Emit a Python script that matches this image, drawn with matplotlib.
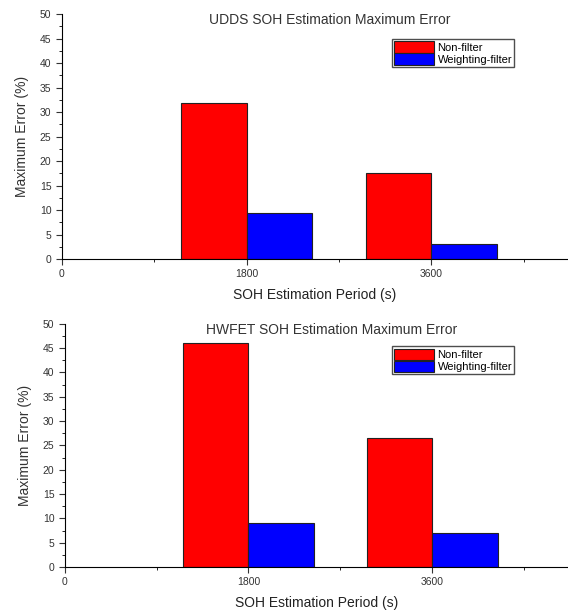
import matplotlib.pyplot as plt
import numpy as np
from matplotlib.ticker import MultipleLocator

plt.rcParams['font.family'] = ['Liberation Sans', 'DejaVu Sans']

periods = [1800, 3600]
labels = ['Non-filter', 'Weighting-filter']
colors = ['#ff0000', '#0000ff']
titles = ['UDDS SOH Estimation Maximum Error', 'HWFET SOH Estimation Maximum Error']
udds = [[31.8, 17.6], [9.5, 3.0]]
hwfet = [[46.0, 26.6], [9.0, 7.0]]

fig = plt.figure(figsize=(5.68, 6.11), dpi=100)
ax1 = fig.add_axes([0.109, 0.576, 0.891, 0.401])
ax2 = fig.add_axes([0.114, 0.072, 0.886, 0.398])
w = 640

for ax, data, title, leg_y, ypad in [(ax1, udds, titles[0], 0.936, 8), (ax2, hwfet, titles[1], 0.433, 8)]:
    x = np.array(periods)
    ax.bar(x - w / 2, data[0], width=w, color=colors[0], edgecolor='#222222', linewidth=0.8, label=labels[0])
    ax.bar(x + w / 2, data[1], width=w, color=colors[1], edgecolor='#222222', linewidth=0.8, label=labels[1])
    ax.set_xlim(0, 4930)
    ax.set_ylim(0, 50)
    ax.spines['top'].set_visible(False)
    ax.spines['right'].set_visible(False)
    ax.set_xticks([0, 1800, 3600])
    ax.xaxis.set_minor_locator(MultipleLocator(900))
    ax.yaxis.set_major_locator(MultipleLocator(5))
    ax.yaxis.set_minor_locator(MultipleLocator(2.5))
    ax.tick_params(labelsize=7.5, colors='#333333', length=4)
    ax.tick_params(which='minor', length=2.5)
    ax.set_ylabel('Maximum Error (%)', fontsize=10, color='#333333', labelpad=ypad)
    ax.set_xlabel('SOH Estimation Period (s)', fontsize=10, color='#222222', labelpad=6)
    ax.text(0.53, 1.005, title, transform=ax.transAxes, ha='center', va='top', fontsize=10, color='#333333')
    ax.legend(loc='upper left', bbox_to_anchor=(0.69, leg_y), bbox_transform=fig.transFigure,
              fontsize=8, frameon=True, fancybox=False, edgecolor='#222222', handlelength=3.6,
              handleheight=1.2, borderpad=0.2, labelspacing=0.05, handletextpad=0.3, borderaxespad=0)

plt.savefig('out.png')
